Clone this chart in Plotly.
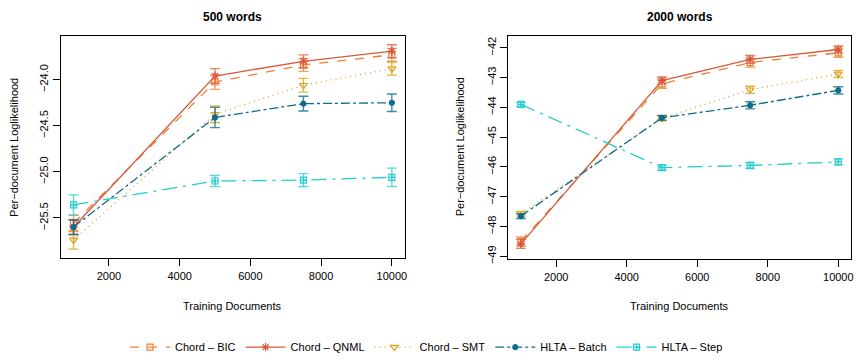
import plotly.graph_objects as go

# Training set sizes
docs = [1000, 5000, 7500, 10000]
x_ticks = [2000, 4000, 6000, 8000, 10000]
x_tick_text = ["2000", "4000", "6000", "8000", "10000"]

series_names = ["Chord \u2013 BIC", "Chord \u2013 QNML", "Chord \u2013 SMT", "HLTA \u2013 Batch", "HLTA \u2013 Step"]

# 500-word vocabulary: mean per-document log-likelihood and error half-widths
w500_bic = [-25.56, -24.025, -23.84, -23.73]
w500_qnml = [-25.60, -23.96, -23.80, -23.69]
w500_smt = [-25.74, -24.375, -24.06, -23.88]
w500_batch = [-25.60, -24.41, -24.26, -24.25]
w500_step = [-25.36, -25.10, -25.09, -25.06]

w500_bic_err = [0.09, 0.08, 0.07, 0.07]
w500_qnml_err = [0.08, 0.08, 0.07, 0.07]
w500_smt_err = [0.10, 0.09, 0.075, 0.07]
w500_batch_err = [0.08, 0.11, 0.08, 0.095]
w500_step_err = [0.11, 0.06, 0.07, 0.10]

# 2000-word vocabulary
w2000_bic = [-48.50, -43.21, -42.50, -42.17]
w2000_qnml = [-48.58, -43.10, -42.39, -42.06]
w2000_smt = [-47.57, -44.37, -43.41, -42.88]
w2000_batch = [-47.65, -44.35, -43.93, -43.43]
w2000_step = [-43.90, -46.02, -45.95, -45.83]

w2000_bic_err = [0.15, 0.15, 0.15, 0.15]
w2000_qnml_err = [0.15, 0.12, 0.13, 0.12]
w2000_smt_err = [0.08, 0.08, 0.12, 0.12]
w2000_batch_err = [0.08, 0.08, 0.12, 0.12]
w2000_step_err = [0.07, 0.08, 0.10, 0.10]

y500_ticks = [-24.0, -24.5, -25.0, -25.5]
y2000_ticks = [-42, -43, -44, -45, -46, -47, -48, -49]

colors = ["#EE7F2D", "#D9583B", "#DDA21B", "#0E6C8C", "#22CCD2"]
err_colors = ["rgba(238,127,45,0.75)", "rgba(217,88,59,0.75)", "rgba(221,162,27,0.8)",
              "rgba(14,108,140,0.8)", "rgba(34,204,210,0.75)"]
dashes = ["dash", "solid", "1px 4px", "dashdot", "longdashdot"]
symbols = ["square-open", "asterisk-open", "triangle-down-open", "circle", "square-cross-open"]
msizes = [6, 7, 7, 5, 6]

FONT = "Liberation Sans, Arial, Helvetica, sans-serif"

fig = go.Figure()

panels = [
    ([w500_bic, w500_qnml, w500_smt, w500_batch, w500_step],
     [w500_bic_err, w500_qnml_err, w500_smt_err, w500_batch_err, w500_step_err], "x", "y", True),
    ([w2000_bic, w2000_qnml, w2000_smt, w2000_batch, w2000_step],
     [w2000_bic_err, w2000_qnml_err, w2000_smt_err, w2000_batch_err, w2000_step_err], "x2", "y2", False),
]

for vals, errs, xa, ya, show in panels:
    for i in range(5):
        fig.add_trace(go.Scatter(
            x=docs, y=vals[i], name=series_names[i], xaxis=xa, yaxis=ya,
            mode="lines+markers", showlegend=show, legendgroup=series_names[i],
            line=dict(color=colors[i], width=1.3, dash=dashes[i]),
            marker=dict(symbol=symbols[i], size=msizes[i], color=colors[i],
                        line=dict(color=colors[i], width=1.2)),
            error_y=dict(type="data", array=errs[i], visible=True,
                         color=err_colors[i], thickness=1.4, width=5),
        ))

W, H = 856, 362

def px_x(p):
    return p / W

def px_y(p):
    return 1 - p / H

axis_common = dict(showline=True, mirror=True, linecolor="black", linewidth=1,
                   ticks="outside", ticklen=7, tickcolor="black", tickwidth=1,
                   showgrid=False, zeroline=False,
                   tickfont=dict(family=FONT, size=11, color="black"))

fig.update_layout(
    width=W, height=H, margin=dict(l=0, r=0, t=0, b=0),
    plot_bgcolor="white", paper_bgcolor="white",
    font=dict(family=FONT, size=11, color="black"),
    xaxis=dict(domain=[px_x(61), px_x(406)], range=[640, 10360], tickvals=x_ticks,
               ticktext=x_tick_text, anchor="y", **axis_common),
    yaxis=dict(domain=[px_y(262), px_y(36)], range=[-25.94, -23.52], tickvals=y500_ticks,
               tickformat=".1f", tickangle=-90, anchor="x", **axis_common),
    xaxis2=dict(domain=[px_x(510), px_x(854)], range=[640, 10360], tickvals=x_ticks,
                ticktext=x_tick_text, anchor="y2", **axis_common),
    yaxis2=dict(domain=[px_y(263), px_y(36)], range=[-49.1, -41.59], tickvals=y2000_ticks,
                tickangle=-90, anchor="x2", **axis_common),
    legend=dict(orientation="h", x=0.5, xanchor="center", y=px_y(352), yanchor="middle",
                font=dict(family=FONT, size=11), itemwidth=40, tracegroupgap=0,
                bgcolor="rgba(0,0,0,0)"),
)

annotations = [
    dict(text="<b>500 words</b>", x=px_x(233.5), y=px_y(17)),
    dict(text="<b>2000 words</b>", x=px_x(682), y=px_y(17)),
    dict(text="Training Documents", x=px_x(233.5), y=px_y(310)),
    dict(text="Training Documents", x=px_x(682), y=px_y(310)),
    dict(text="Per\u2212document Loglikelihood", x=px_x(14), y=px_y(149), textangle=-90),
    dict(text="Per\u2212document Loglikelihood", x=px_x(462), y=px_y(149), textangle=-90),
]
for a in annotations:
    size = 12 if a["text"].startswith("<b>") else 11
    fig.add_annotation(xref="paper", yref="paper", showarrow=False,
                       xanchor="center", yanchor="middle",
                       font=dict(family=FONT, size=size, color="black"), **a)

fig.write_html("out.html")
